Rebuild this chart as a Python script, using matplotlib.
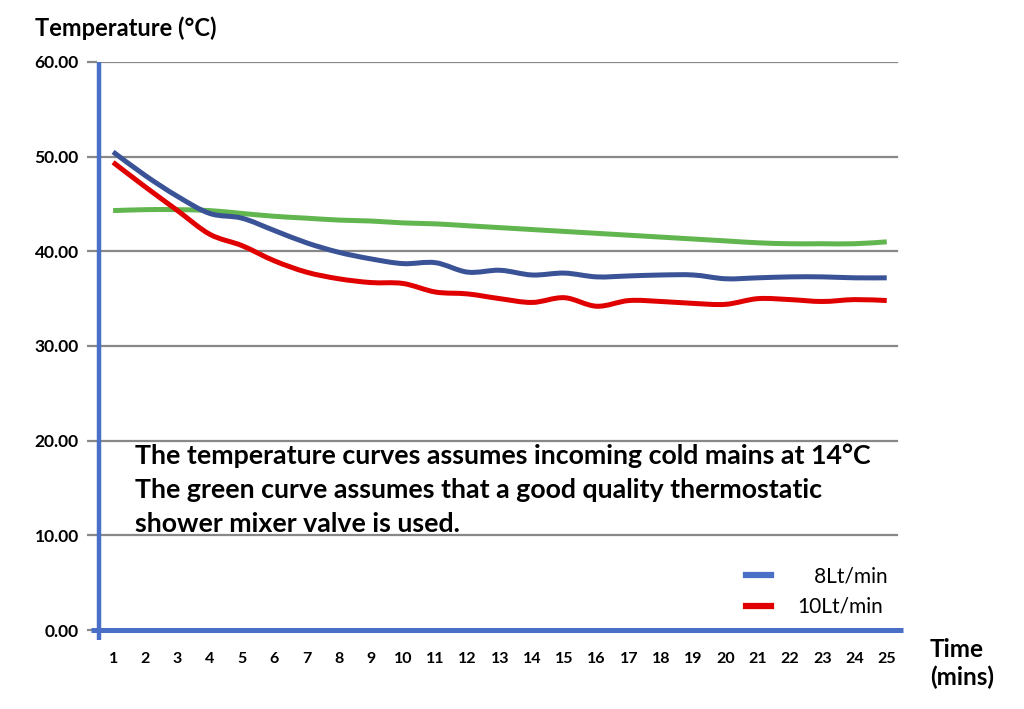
import numpy as np
import matplotlib.pyplot as plt
from matplotlib.path import Path
from matplotlib.patches import PathPatch
from matplotlib.lines import Line2D

plt.rcParams['font.family'] = ['Lato', 'DejaVu Sans']

minutes = list(range(1, 26))
flow_8 = [50.5, 48.0, 45.8, 44.0, 43.5, 42.2, 40.9, 39.9, 39.2, 38.7, 38.8, 37.8, 38.0,
          37.5, 37.7, 37.3, 37.4, 37.5, 37.5, 37.1, 37.2, 37.3, 37.3, 37.2, 37.2]
flow_10 = [49.4, 46.8, 44.3, 41.8, 40.6, 39.0, 37.8, 37.1, 36.7, 36.6, 35.7, 35.5, 35.0,
           34.6, 35.1, 34.2, 34.8, 34.7, 34.5, 34.4, 35.0, 34.9, 34.7, 34.9, 34.8]
thermostatic = [44.3, 44.4, 44.4, 44.3, 44.0, 43.7, 43.5, 43.3, 43.2, 43.0, 42.9, 42.7, 42.5,
                42.3, 42.1, 41.9, 41.7, 41.5, 41.3, 41.1, 40.9, 40.8, 40.8, 40.8, 41.0]
y_ticks = [0, 10, 20, 30, 40, 50, 60]

BLUE_AXIS = '#4a6fc7'
NAVY = '#3a5396'
RED = '#e00000'
GREEN = '#62b64f'
GRAY = '#888888'


def smooth_path(x, y):
    # excel-like smoothed line: catmull-rom segments as cubic beziers
    x = np.asarray(x, float)
    y = np.asarray(y, float)
    px = np.concatenate([[x[0]], x, [x[-1]]])
    py = np.concatenate([[y[0]], y, [y[-1]]])
    verts = [(x[0], y[0])]
    codes = [Path.MOVETO]
    t = 1 / 6
    for i in range(1, len(px) - 2):
        c1 = (px[i] + (px[i + 1] - px[i - 1]) * t, py[i] + (py[i + 1] - py[i - 1]) * t)
        c2 = (px[i + 1] - (px[i + 2] - px[i]) * t, py[i + 1] - (py[i + 2] - py[i]) * t)
        verts += [c1, c2, (px[i + 1], py[i + 1])]
        codes += [Path.CURVE4] * 3
    return Path(verts, codes)


fig = plt.figure(figsize=(10.24, 7.09), dpi=100)
ax = fig.add_axes([0.0947, 0.1114, 0.787, 0.8012])
ax.set_xlim(0.5, 25.5)
ax.set_ylim(0, 60)

for v in y_ticks[1:]:
    ax.axhline(v, xmin=0, xmax=0.993, color=GRAY, lw=1.6, zorder=1)

for vals, col in [(thermostatic, GREEN), (flow_8, NAVY), (flow_10, RED)]:
    ax.add_patch(PathPatch(smooth_path(minutes, vals), fill=False, edgecolor=col,
                           lw=3.6, capstyle='butt', joinstyle='round', zorder=3))

for s in ax.spines.values():
    s.set_visible(False)
# blue axes
ax.plot([0.003, 0.003], [-0.018, 1.0], transform=ax.transAxes, color=BLUE_AXIS,
        lw=3.2, clip_on=False, zorder=4, solid_capstyle='butt')
ax.plot([-0.007, 1.0], [0, 0], transform=ax.transAxes, color=BLUE_AXIS,
        lw=3.6, clip_on=False, zorder=4, solid_capstyle='butt')

ax.set_yticks(y_ticks)
ax.set_yticklabels([f'{v:.2f}' for v in y_ticks], fontsize=12.5, fontweight='bold')
ax.tick_params(axis='y', length=7, width=1.6, color=GRAY, pad=6)
ax.set_xticks(minutes)
ax.set_xticklabels([str(m) for m in minutes], fontsize=11.5, fontweight='bold')
ax.tick_params(axis='x', length=0, pad=16)

fig.text(0.034, 0.96, 'Temperature (°C)', fontsize=17, fontweight='bold', va='center')
fig.text(0.908, 0.064, 'Time\n(mins)', fontsize=17.5, fontweight='bold', va='center',
         linespacing=1.25)

ax.text(1.68, 14.8, 'The temperature curves assumes incoming cold mains at 14°C\n'
        'The green curve assumes that a good quality thermostatic\n'
        'shower mixer valve is used.', fontsize=19.3, fontweight='bold', va='center',
        linespacing=1.5)

handles = [Line2D([], [], color=BLUE_AXIS, lw=4.5), Line2D([], [], color=RED, lw=4.5)]
ax.legend(handles, ['   8Lt/min', '10Lt/min'], loc='lower right',
          bbox_to_anchor=(1.004, -0.01), frameon=False, fontsize=15,
          handlelength=1.2, handletextpad=1.3, labelspacing=0.5)

fig.savefig('out.png', dpi=100)
